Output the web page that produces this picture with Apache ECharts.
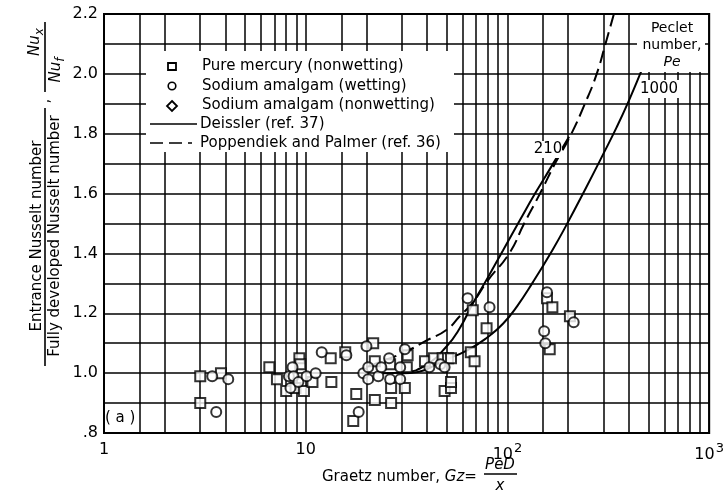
<!DOCTYPE html>
<html><head><meta charset="utf-8">
<script src="https://cdn.jsdelivr.net/npm/echarts/dist/echarts.min.js"></script>
<style>html,body{margin:0;padding:0;background:#fff}#c{width:727px;height:498px}</style>
</head><body><div id="c"></div><script>
// ---- data ----
const xDecades = [1, 10, 100, 1000];
const xTickText = ['1', '10', '10^2', '10^3'];
const minorGz = [1.5,2,3,4,5,6,7,8,9,15,20,30,40,50,60,70,80,90,150,200,300,400,500,600,700,800,900];
const yLabelled = [0.8, 1.0, 1.2, 1.4, 1.6, 1.8, 2.0, 2.2];

const pureMercury = [
  [3.0,0.99],[3.0,0.90],[3.8,1.00],[6.6,1.02],[7.2,0.98],[9.3,1.05],[9.4,1.03],[8.0,0.94],[8.9,0.95],
  [9.8,0.94],[10.8,0.97],[13.3,1.05],[13.4,0.97],[15.7,1.07],[17.8,0.93],[17.2,0.84],[21.6,1.10],
  [22.0,1.04],[22.0,0.91],[26.5,0.90],[26.2,1.03],[26.5,0.95],[31,0.95],[32,1.06],[31.7,1.02],
  [39,1.04],[43.2,1.05],[47.7,1.05],[50.7,1.05],[52.5,1.05],[48.8,0.94],[52.5,0.95],[52.5,0.97],
  [67.3,1.21],[78.8,1.15],[65.8,1.07],[68.7,1.04],[157,1.25],[167,1.22],[162,1.08],[204,1.19]
];
const amalgamWetting = [
  [3.44,0.99],[4.13,0.98],[3.6,0.87],[8.6,1.02],[8.25,0.99],[8.7,0.99],[8.4,0.95],[9.2,0.97],
  [10.1,0.99],[11.2,1.00],[12.0,1.07],[15.9,1.06],[18.3,0.87],[20.0,1.09],[19.3,1.00],[20.4,1.02],
  [20.4,0.98],[22.9,0.99],[23.7,1.02],[25.9,1.05],[26.2,0.98],[29.4,1.02],[29.4,0.98],[31,1.08],
  [41,1.02],[46.5,1.03],[48.8,1.02],[63.5,1.25],[81.5,1.22],[152,1.14],[157,1.27],[154,1.10],[213,1.17]
];
const amalgamNonwetting = [];
const deissler210 = [
  [24,1.0],[31,1.003],[40,1.03],[50,1.09],[58,1.15],[67,1.23],[80,1.32],[95,1.41],[115,1.51],
  [137,1.60],[165,1.69],[202,1.79]
];
const deissler1000 = [
  [30,1.0],[36,1.004],[47.8,1.041],[63.5,1.077],[79.7,1.12],[95,1.165],[112,1.225],[134,1.305],
  [167,1.411],[195,1.492],[242,1.612],[300,1.735],[348,1.822],[399,1.909],[457,2.003],[518,2.093],[600,2.203]
];
const poppendiekPalmer = [
  [20,1.02],[25,1.045],[31,1.07],[40,1.11],[50,1.145],[58,1.19],[67,1.234],[80,1.31],[102,1.40],
  [121,1.50],[145,1.60],[172,1.70],[204,1.79],[242,1.90],[277,2.00],[306,2.10],[337,2.20]
];

// ---- chart ----
const FONT = 'DejaVu Sans';
const chart = echarts.init(document.getElementById('c'));
const txt = (x, y, text, extra, z) => ({
  type: 'text', x, y, z: z || 110,
  style: Object.assign({ text, fill: '#000', fontFamily: FONT, fontSize: 15, align: 'left', verticalAlign: 'middle' }, extra || {})
});
const ln = (x1, y1, x2, y2, extra) => ({
  type: 'line', z: 110, shape: { x1, y1, x2, y2 },
  style: Object.assign({ stroke: '#000', lineWidth: 1.6 }, extra || {})
});
const white = (x, y, w, h) => ({ type: 'rect', z: 100, shape: { x, y, width: w, height: h }, style: { fill: '#fff' } });

const graphics = [
  white(146, 51, 308, 101),
  { type: 'rect', z: 110, shape: { x: 168, y: 63, width: 8, height: 7 }, style: { fill: '#fff', stroke: '#000', lineWidth: 1.8 } },
  { type: 'circle', z: 110, shape: { cx: 172, cy: 86, r: 3.8 }, style: { fill: '#fff', stroke: '#000', lineWidth: 1.6 } },
  { type: 'polygon', z: 110, shape: { points: [[172, 101], [177, 106], [172, 111], [167, 106]] }, style: { fill: '#fff', stroke: '#000', lineWidth: 1.8 } },
  ln(150, 124, 197, 124),
  ln(150, 143, 192, 143, { lineDash: [13, 6] }),
  txt(202, 66, 'Pure mercury (nonwetting)'),
  txt(202, 86, 'Sodium amalgam (wetting)'),
  txt(202, 105, 'Sodium amalgam (nonwetting)'),
  txt(200, 124, 'Deissler (ref. 37)'),
  txt(200, 143, 'Poppendiek and Palmer (ref. 36)'),
  // Peclet box
  white(637, 15, 68, 57),
  txt(672, 28, 'Peclet', { align: 'center', fontSize: 14 }),
  txt(672, 45, 'number,', { align: 'center', fontSize: 14 }),
  txt(672, 62, 'Pe', { align: 'center', fontSize: 14, fontStyle: 'italic' }),
  white(640, 80, 39, 18),
  txt(659, 89, '1000', { align: 'center' }),
  white(534, 141, 28, 17),
  txt(548, 149, '210', { align: 'center' }),
  txt(105, 418, '( a )', { fontSize: 15 }),
  // x-axis title
  txt(322, 477, 'Graetz number, {i|Gz}=', { rich: { i: { fontStyle: 'italic', fontFamily: FONT, fontSize: 15 } } }),
  txt(500, 465, 'PeD', { align: 'center', fontStyle: 'italic' }),
  ln(484, 474, 517, 474),
  txt(500, 486, 'x', { align: 'center', fontStyle: 'italic' }),
  // y-axis title
  txt(37, 236, 'Entrance Nusselt number', { align: 'center' }),
  txt(55, 236, 'Fully developed Nusselt number', { align: 'center' }),
  ln(45, 108, 45, 366),
  txt(45, 101, ',', { align: 'center' }),
  txt(35, 42, 'Nu{s|x}', { align: 'center', fontStyle: 'italic', rich: { s: { fontStyle: 'italic', fontFamily: FONT, fontSize: 12, padding: [10, 0, 0, 0] } } }),
  ln(45, 22, 45, 92),
  txt(56, 70, 'Nu{s|f}', { align: 'center', fontStyle: 'italic', rich: { s: { fontStyle: 'italic', fontFamily: FONT, fontSize: 12, padding: [10, 0, 0, 0] } } })
];
// rotate y-title elements
for (let i = graphics.length - 7; i < graphics.length; i++) {
  const g = graphics[i];
  if (g.type === 'text') g.rotation = Math.PI / 2;
}

chart.setOption({
  animation: false,
  backgroundColor: '#fff',
  grid: { left: 104, right: 14, top: 14, bottom: 65, show: true, borderColor: '#000', borderWidth: 2, backgroundColor: 'transparent' },
  xAxis: {
    type: 'log', logBase: 10, min: 1, max: 1000,
    axisLine: { show: false }, axisTick: { show: false },
    splitLine: { show: true, lineStyle: { color: '#000', width: 1.5 } },
    axisLabel: {
      margin: 9, color: '#000', fontFamily: FONT, fontSize: 16,
      formatter: v => {
        const i = xDecades.findIndex(d => Math.abs(d - v) / d < 1e-6);
        if (i < 0) return '';
        const parts = xTickText[i].split('^');
        return parts.length > 1 ? '{b|' + parts[0] + '}{s|' + parts[1] + '}' : '{b|' + parts[0] + '}';
      },
      rich: { b: { fontFamily: FONT, fontSize: 16, color: '#000' }, s: { fontFamily: FONT, fontSize: 13, color: '#000', padding: [0, 0, 12, 1] } }
    }
  },
  yAxis: {
    type: 'value', min: 0.8, max: 2.2, interval: 0.1,
    axisLine: { show: false }, axisTick: { show: false },
    splitLine: { show: true, lineStyle: { color: '#000', width: 1.5 } },
    axisLabel: {
      margin: 6, color: '#000', fontFamily: FONT, fontSize: 16,
      formatter: v => {
        const k = Math.round(v * 10);
        if (!yLabelled.some(t => Math.round(t * 10) === k)) return '';
        return k < 10 ? '.' + k : (k / 10).toFixed(1);
      }
    }
  },
  graphic: graphics,
  series: [
    {
      type: 'line', data: [], silent: true, z: 1,
      markLine: {
        silent: true, symbol: ['none', 'none'], label: { show: false },
        lineStyle: { color: '#000', width: 1.5, type: 'solid' },
        data: minorGz.map(v => ({ xAxis: v }))
      }
    },
    { name: 'Deissler (ref. 37), Pe = 210', type: 'line', data: deissler210, smooth: true, showSymbol: false, lineStyle: { color: '#000', width: 2 }, z: 3 },
    { name: 'Deissler (ref. 37), Pe = 1000', type: 'line', data: deissler1000, smooth: true, showSymbol: false, lineStyle: { color: '#000', width: 2 }, z: 3 },
    { name: 'Poppendiek and Palmer (ref. 36)', type: 'line', data: poppendiekPalmer, smooth: true, showSymbol: false, lineStyle: { color: '#000', width: 2, type: [13, 6] }, z: 3 },
    { name: 'Pure mercury (nonwetting)', type: 'scatter', data: pureMercury, symbol: 'rect', symbolSize: 10, itemStyle: { color: '#fff', borderColor: '#000', borderWidth: 2 }, z: 5 },
    { name: 'Sodium amalgam (wetting)', type: 'scatter', data: amalgamWetting, symbol: 'circle', symbolSize: 10, itemStyle: { color: '#fff', borderColor: '#000', borderWidth: 2 }, z: 5 },
    { name: 'Sodium amalgam (nonwetting)', type: 'scatter', data: amalgamNonwetting, symbol: 'diamond', symbolSize: 11, itemStyle: { color: '#fff', borderColor: '#000', borderWidth: 2 }, z: 5 }
  ]
});
</script></body></html>
